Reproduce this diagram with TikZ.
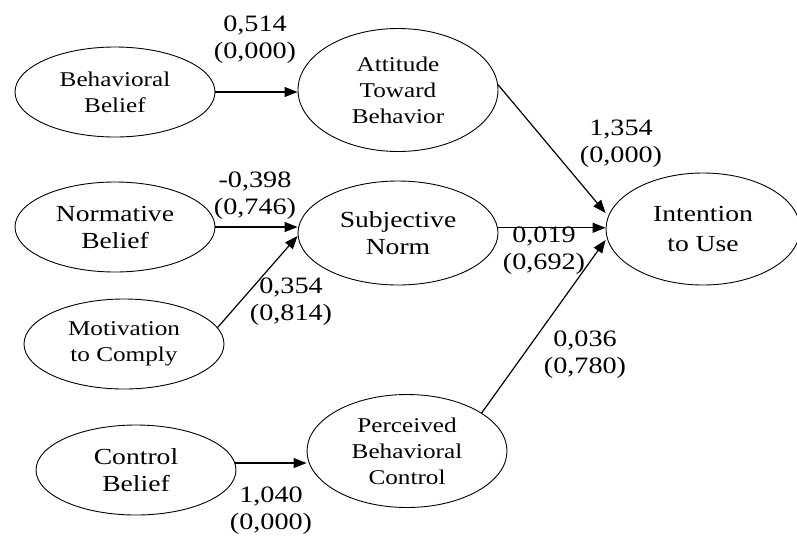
\documentclass[tikz,border=0pt]{standalone}
\usepackage{fontspec}
\setmainfont[FakeStretch=1.2]{Liberation Serif}
\usetikzlibrary{shapes.geometric,arrows.meta}
\begin{document}
\begin{tikzpicture}[x=1pt,y=-1pt,
  ell/.style={draw, ellipse, line width=0.9pt, inner sep=0pt, align=center},
  smalltxt/.style={font=\fontsize{21}{26}\selectfont},
  bigtxt/.style={font=\fontsize{23}{27}\selectfont},
  lbl/.style={align=center, inner sep=0pt, font=\fontsize{23.5}{27}\selectfont},
  arr/.style={-{Triangle[length=13pt,width=10pt]}, line width=1.2pt}]
\useasboundingbox (0,0) rectangle (797,536);
\node[ell, smalltxt, minimum width=200, minimum height=90] (bb) at (115,92) {Behavioral\\Belief};
\node[ell, smalltxt, minimum width=200, minimum height=123] (atb) at (398,90) {Attitude\\Toward\\Behavior};
\node[ell, bigtxt, minimum width=200, minimum height=90] (nb) at (115,227) {Normative\\Belief};
\node[ell, bigtxt, minimum width=200, minimum height=104] (sn) at (398,233) {Subjective\\Norm};
\node[ell, font=\fontsize{23}{30}\selectfont, minimum width=194, minimum height=112] (itu) at (703,229) {Intention\\to Use};
\node[ell, smalltxt, minimum width=200, minimum height=90] (mtc) at (124,344) {Motivation\\to Comply};
\node[ell, bigtxt, minimum width=200, minimum height=90] (cb) at (136,470) {Control\\Belief};
\node[ell, smalltxt, minimum width=200, minimum height=113] (pbc) at (407,451) {Perceived\\Behavioral\\Control};

\draw[arr] (bb.east) -- (atb.west |- bb.east);
\draw[arr] (nb.east) -- (sn.west |- nb.east);
\draw[arr] (mtc.10) -- ([yshift=-3pt]sn.west);
\draw[arr] (cb.4) -- (cb.4 -| pbc.west);
\draw[arr] (atb.3) -- ([yshift=16pt]itu.west);
\draw[arr] (sn.3) -- (sn.3 -| itu.west);
\draw[arr] (pbc.27) -- ([yshift=-11pt]itu.west);

\node[lbl] (l1) at (255,40) {0,514\\(0,000)};
\node[lbl] (l2) at (255,196) {-0,398\\(0,746)};
\node[lbl] (l3) at (621,144) {1,354\\(0,000)};
\node[lbl] (l4) at (544,251) {0,019\\(0,692)};
\node[lbl] (l5) at (291,302) {0,354\\(0,814)};
\node[lbl] (l6) at (585,355) {0,036\\(0,780)};
\node[lbl] (l7) at (271,511) {1,040\\(0,000)};
\end{tikzpicture}
\end{document}
